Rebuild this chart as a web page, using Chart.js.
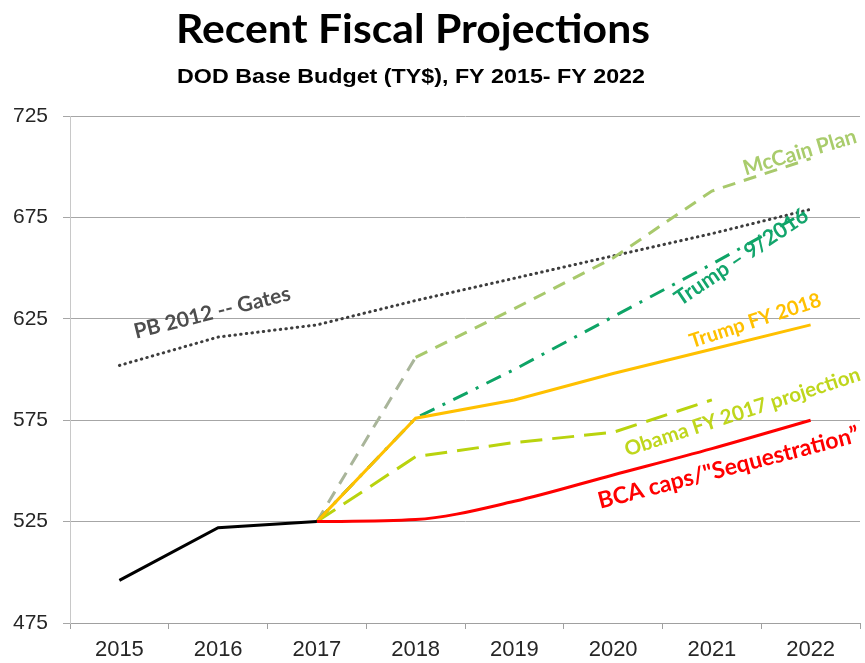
<!DOCTYPE html>
<html>
<head>
<meta charset="utf-8">
<script src="https://cdn.jsdelivr.net/npm/chart.js@4.4.1/dist/chart.umd.min.js"></script>
<style>
  html, body { margin: 0; padding: 0; background: #fff; }
  #wrap { width: 865px; height: 663px; }
</style>
</head>
<body>
<div id="wrap"><canvas id="budgetChart" width="865" height="663"></canvas></div>
<script>
// === DATA ($B then-year) ===
const years = ['2015', '2016', '2017', '2018', '2019', '2020', '2021', '2022'];
const yTicks = [475, 525, 575, 625, 675, 725];

const actual     = [496, 522, 525, null, null, null, null, null];
const pb2012     = [602, 616, 622, 634, 645, 656, 667, 679];
const mccain     = [null, null, 525, 606, 630, 655, 688, 704];
const trump916   = [null, null, 525, 576, 600, 626, 652, 679];
const trumpFy18  = [null, null, 525, 576, 585, 598, 610, 622];
const obamaFy17  = [null, null, 525, 557, 564, 569, 585, null];
const bcaCaps    = [null, null, 525, 526, 535, 548, 561, 575];

const titleText = 'Recent Fiscal Projections';
const subtitleText = 'DOD Base Budget (TY$), FY 2015- FY 2022';

// line labels sit on the lines, positioned in data space (category index, value)
const lineLabels = [
    { text: 'PB 2012 -- Gates', at: [0.94, 628], angle: -14, color: '#4d4d4d', size: 21 },
    { text: 'McCain Plan', at: [6.89, 707], angle: -16.5, color: '#a9cc6c', size: 21 },
    { text: 'Trump \u2013 9/2016', at: [6.30, 655.5], angle: -34, color: '#13a56c', size: 21.5 },
    { text: 'Trump FY 2018', at: [6.44, 624], angle: -18, color: '#ffc000', size: 20 },
    { text: 'Obama FY 2017 projection', at: [6.31, 579], angle: -18, color: '#bfd61c', size: 20.5 },
    { text: 'BCA caps/"Sequestration\u201D', at: [6.17, 551.5], angle: -14.5, color: '#ff0000', size: 23 }
];

// draw a string centred on x, stretched/squeezed to the width it has in the reference
function fitText(ctx, text, x, y, width) {
    const w = ctx.measureText(text).width;
    ctx.save();
    ctx.translate(x, y);
    ctx.scale(width / w, 1);
    ctx.fillText(text, 0, 0);
    ctx.restore();
}

// === PLUGIN: headline + on-line labels ===
const textPlugin = {
    id: 'textPlugin',
    afterDatasetsDraw(chart) {
        const { ctx, scales } = chart;
        ctx.save();
        ctx.textAlign = 'center';
        ctx.textBaseline = 'alphabetic';
        ctx.fillStyle = '#000';
        ctx.font = 'bold 40px Lato, "Open Sans", sans-serif';
        fitText(ctx, titleText, 413, 43, 474);
        ctx.font = 'bold 21px "Liberation Sans", Arial, sans-serif';
        fitText(ctx, subtitleText, 411, 83, 468);

        ctx.textBaseline = 'middle';
        lineLabels.forEach(l => {
            const px = scales.x.getPixelForValue(l.at[0]);
            const py = scales.y.getPixelForValue(l.at[1]);
            ctx.save();
            ctx.translate(px, py);
            ctx.rotate(l.angle * Math.PI / 180);
            ctx.font = `bold ${l.size}px Lato, "Open Sans", sans-serif`;
            ctx.fillStyle = l.color;
            ctx.fillText(l.text, 0, 0);
            ctx.restore();
        });
        ctx.restore();
    }
};

function lineSet(label, data, color, extra) {
    return Object.assign({
        label: label,
        data: data,
        borderColor: color,
        backgroundColor: color,
        borderWidth: 3,
        pointRadius: 0,
        pointHoverRadius: 0,
        tension: 0,
        spanGaps: false,
        fill: false
    }, extra || {});
}

const tickFont = '"Liberation Sans", Arial, sans-serif';

const ctx = document.getElementById('budgetChart').getContext('2d');
const chart = new Chart(ctx, {
    type: 'line',
    data: {
        labels: years,
        datasets: [
            lineSet('Actual', actual, '#000000', { order: 0 }),
            lineSet('BCA caps', bcaCaps, '#ff0000', { order: 1, cubicInterpolationMode: 'monotone' }),
            lineSet('Trump FY 2018', trumpFy18, '#ffc000', { order: 2 }),
            lineSet('Obama FY 2017', obamaFy17, '#b9d30e', { order: 3, borderDash: [22, 10] }),
            lineSet('Trump 9/2016', trump916, '#0ea466', { order: 4, borderDash: [16, 9, 3, 9] }),
            lineSet('McCain Plan', mccain, '#a8c96c', {
                order: 5,
                borderDash: [13, 9],
                segment: { borderColor: c => c.p0DataIndex === 2 ? '#a9b59a' : undefined }
            }),
            lineSet('PB 2012 - Gates', pb2012, '#3d3d3d', {
                order: 6, borderWidth: 3, borderDash: [0.5, 5.2], borderCapStyle: 'round'
            })
        ]
    },
    options: {
        responsive: false,
        animation: false,
        layout: { padding: { top: 116, right: 5, bottom: 4, left: 0 } },
        plugins: {
            legend: { display: false },
            tooltip: { enabled: false },
            title: { display: false }
        },
        scales: {
            x: {
                offset: true,
                grid: { drawOnChartArea: false, offset: true, tickLength: 6, color: '#a0a0a0' },
                border: { color: '#a0a0a0' },
                ticks: { font: { family: tickFont, size: 22 }, color: '#262626', padding: 8 },
                afterFit: s => { s.height = 36; }
            },
            y: {
                min: yTicks[0],
                max: yTicks[yTicks.length - 1],
                afterBuildTicks: s => { s.ticks = yTicks.map(v => ({ value: v })); },
                grid: { color: '#a6a6a6', tickLength: 7 },
                border: { color: '#c8c8c8' },
                ticks: { font: { family: tickFont, size: 21 }, color: '#262626', padding: 15 },
                afterFit: s => { s.width = 70; }
            }
        }
    },
    plugins: [textPlugin]
});
</script>
</body>
</html>
